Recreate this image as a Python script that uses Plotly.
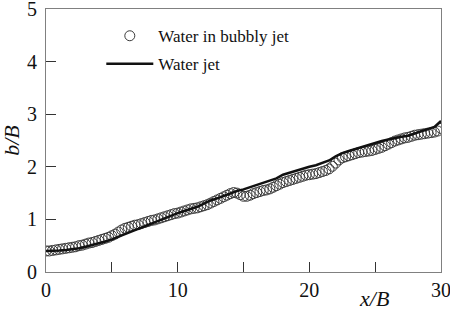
import plotly.graph_objects as go

# Water in bubbly jet (open circles)
bubbly_x = [0.0, 0.25, 0.5, 0.75, 1.0, 1.25, 1.5, 1.75, 2.0, 2.25, 2.5, 2.75, 3.0, 3.25, 3.5, 3.75,
            4.0, 4.25, 4.5, 4.75, 5.0, 5.25, 5.5, 5.75, 6.0, 6.25, 6.5, 6.75, 7.0, 7.25, 7.5, 7.75,
            8.0, 8.25, 8.5, 8.75, 9.0, 9.25, 9.5, 9.75, 10.0, 10.25, 10.5, 10.75, 11.0, 11.25, 11.5, 11.75,
            12.0, 12.25, 12.5, 12.75, 13.0, 13.25, 13.5, 13.75, 14.0, 14.25, 14.5, 14.75, 15.0, 15.25, 15.5, 15.75,
            16.0, 16.25, 16.5, 16.75, 17.0, 17.25, 17.5, 17.75, 18.0, 18.25, 18.5, 18.75, 19.0, 19.25, 19.5, 19.75,
            20.0, 20.25, 20.5, 20.75, 21.0, 21.25, 21.5, 21.75, 22.0, 22.25, 22.5, 22.75, 23.0, 23.25, 23.5, 23.75,
            24.0, 24.25, 24.5, 24.75, 25.0, 25.25, 25.5, 25.75, 26.0, 26.25, 26.5, 26.75, 27.0, 27.25, 27.5, 27.75,
            28.0, 28.25, 28.5, 28.75, 29.0, 29.25, 29.5, 29.75, 30.0]
bubbly_y = [0.40, 0.40, 0.41, 0.42, 0.43, 0.44, 0.45, 0.46, 0.47, 0.48, 0.50, 0.51, 0.53, 0.55, 0.56, 0.58,
            0.60, 0.62, 0.64, 0.66, 0.69, 0.72, 0.76, 0.80, 0.83, 0.85, 0.87, 0.89, 0.90, 0.92, 0.94, 0.96,
            0.98, 0.99, 1.01, 1.03, 1.05, 1.07, 1.09, 1.11, 1.12, 1.14, 1.16, 1.18, 1.20, 1.21, 1.22, 1.24,
            1.26, 1.28, 1.31, 1.34, 1.37, 1.40, 1.43, 1.46, 1.49, 1.51, 1.50, 1.47, 1.44, 1.44, 1.46, 1.49,
            1.51, 1.53, 1.55, 1.56, 1.58, 1.61, 1.64, 1.67, 1.70, 1.72, 1.74, 1.76, 1.78, 1.80, 1.82, 1.84,
            1.85, 1.86, 1.87, 1.89, 1.91, 1.93, 1.96, 2.01, 2.07, 2.13, 2.17, 2.19, 2.21, 2.23, 2.25, 2.27,
            2.28, 2.29, 2.30, 2.31, 2.33, 2.35, 2.37, 2.40, 2.43, 2.46, 2.49, 2.51, 2.53, 2.55, 2.56, 2.58,
            2.60, 2.61, 2.62, 2.63, 2.64, 2.65, 2.66, 2.68, 2.73]

# Water jet (solid line)
jet_x = [0, 0.5, 1, 1.5, 2, 2.5, 3, 3.5, 4, 4.5, 5, 5.5, 6, 6.5, 7, 7.5, 8, 8.5, 9, 9.5,
         10, 10.5, 11, 11.5, 12, 12.5, 13, 13.5, 14, 14.5, 15, 15.5, 16, 16.5, 17, 17.5, 18, 18.5, 19, 19.5,
         20, 20.5, 21, 21.5, 22, 22.5, 23, 23.5, 24, 24.5, 25, 25.5, 26, 26.5, 27, 27.5, 28, 28.5, 29, 29.5, 30]
jet_y = [0.40, 0.40, 0.41, 0.42, 0.43, 0.45, 0.48, 0.51, 0.55, 0.58, 0.62, 0.67, 0.72, 0.77, 0.83, 0.88, 0.93, 0.98, 1.03, 1.08,
         1.12, 1.16, 1.20, 1.24, 1.30, 1.36, 1.40, 1.45, 1.50, 1.54, 1.57, 1.61, 1.65, 1.69, 1.73, 1.78, 1.85, 1.89, 1.92, 1.96,
         2.00, 2.03, 2.07, 2.12, 2.20, 2.26, 2.30, 2.34, 2.38, 2.42, 2.46, 2.49, 2.52, 2.55, 2.57, 2.59, 2.63, 2.68, 2.72, 2.76, 2.87]

x_tickvals = [0, 5, 10, 15, 20, 25, 30]
x_ticktext = ["0", "", "10", "", "20", "", "30"]
y_tickvals = [0, 1, 2, 3, 4, 5]
y_ticktext = ["0", "1", "2", "3", "4", "5"]

FONT = "Liberation Serif"

fig = go.Figure()
fig.add_trace(go.Scatter(
    x=bubbly_x, y=bubbly_y, mode="markers", name="Water in bubbly jet",
    legendgroup="a",
    marker=dict(symbol="circle-open", size=10, color="#3a3a3a", line=dict(width=1, color="#3a3a3a")),
))
fig.add_trace(go.Scatter(
    x=jet_x, y=jet_y, mode="lines", name="Water jet",
    legendgroup="b",
    line=dict(color="#111111", width=2.5),
))

axis_common = dict(
    showline=True, linecolor="#808080", linewidth=1, mirror=True,
    ticks="inside", ticklen=10, tickcolor="#333333", tickwidth=1,
    showgrid=False, zeroline=False, ticklabeloverflow="allow", automargin=False,
    tickfont=dict(family=FONT, size=20, color="#111111"),
)

fig.update_layout(
    width=450, height=315, autosize=False,
    margin=dict(l=46, r=9, t=9, b=43, autoexpand=False),
    paper_bgcolor="white", plot_bgcolor="white",
    font=dict(family=FONT, color="#111111"),
    xaxis=dict(range=[0, 30], tickvals=x_tickvals, ticktext=x_ticktext, **axis_common),
    yaxis=dict(range=[0, 5], tickvals=y_tickvals, ticktext=y_ticktext, ticklabelstandoff=4,
               **axis_common),
    showlegend=True,
    legend=dict(x=0.14, y=0.965, xanchor="left", yanchor="top", itemwidth=47,
                bgcolor="rgba(0,0,0,0)", traceorder="grouped", tracegroupgap=3,
                font=dict(family=FONT, size=17, color="#111111")),
    annotations=[
        dict(text="<i>x/B</i>", xref="paper", yref="paper", x=0.83, y=-0.1,
             xanchor="center", yanchor="middle", showarrow=False,
             font=dict(family=FONT, size=22, color="#111111")),
        dict(text="<i>b/B</i>", xref="paper", yref="paper", x=-0.088, y=0.5,
             xanchor="center", yanchor="middle", showarrow=False, textangle=-90,
             font=dict(family=FONT, size=22, color="#111111")),
    ],
)

fig.write_html("out.html", config={"displayModeBar": False},
               post_script="document.body.style.margin='0';document.body.style.overflow='hidden';")
